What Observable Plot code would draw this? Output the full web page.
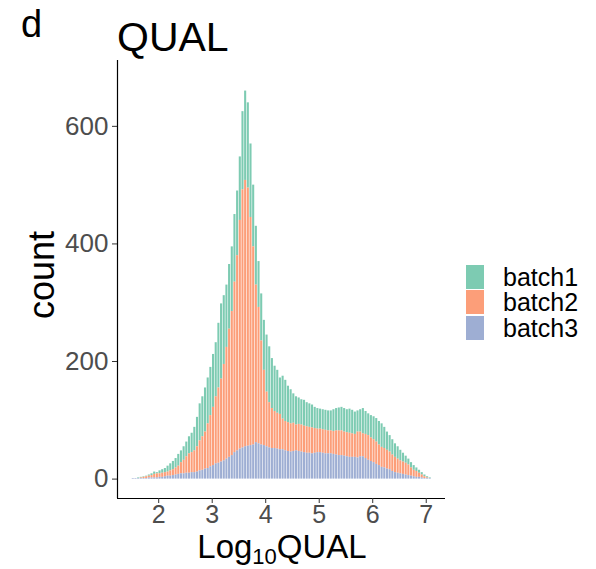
<!DOCTYPE html>
<html>
<head>
<meta charset="utf-8">
<script src="https://cdn.jsdelivr.net/npm/d3@7"></script>
<script src="https://cdn.jsdelivr.net/npm/@observablehq/plot@0.6"></script>
<style>
  body { margin: 0; background: #fff; font-family: "Liberation Sans", Arial, sans-serif; }
  #wrap { position: relative; width: 596px; height: 569px; overflow: hidden; }
  #wrap svg { position: absolute; left: 0; top: 0; }
  .ov { position: absolute; white-space: nowrap; color: #000; line-height: 1; }
  .key { position: absolute; width: 18px; height: 24px; }
</style>
</head>
<body>
<div id="wrap"></div>
<script>
const panelLetter = "d";
const title = "QUAL";
const yLabel = "count";
const batches = ["batch1", "batch2", "batch3"];
const batchColors = ["#66C2A5", "#FC8D62", "#8DA0CB"];
const binStartFirst = 1.5;
const binWidth = 0.05;
const xTicks = [2, 3, 4, 5, 6, 7];
const yTicks = [0, 200, 400, 600];
const xDomain = [1.23, 7.36];
const yDomain = [-33, 712];

const batch1 = [
  0,0,1,1,1,1,2,3,4,2,
  5,6,7,10,12,14,16,20,20,23,
  25,29,33,40,50,63,68,75,78,82,
  90,92,110,128,117,106,110,110,115,110,
  108,133,152,145,125,105,100,78,80,85,
  97,95,85,77,73,62,73,70,62,58,
  50,48,45,43,44,41,40,39,36,35,
  34,34,34,34,34,37,38,39,40,40,
  39,41,40,38,36,38,43,39,37,38,
  39,40,40,40,36,31,28,26,23,21,
  18,15,12,10,9,8,6,5,4,3,
  2,1
];
const batch2 = [
  0,0,0,1,2,3,3,4,6,7,
  6,7,7,7,9,10,12,14,19,23,
  28,33,34,37,43,51,57,63,76,87,
  99,114,128,141,164,190,218,245,290,332,
  389,439,453,439,388,337,268,232,177,128,
  93,77,68,63,61,60,52,50,49,48,
  48,44,46,46,45,45,44,44,42,40,
  40,40,40,39,39,39,41,42,42,41,
  41,41,40,39,44,42,39,41,42,40,
  39,38,35,34,33,32,30,28,26,24,
  22,21,20,18,14,11,10,7,5,3,
  1,0
];
const batch3 = [
  1,1,1,1,1,1,2,2,2,2,
  3,3,4,5,5,6,7,8,9,9,
  10,10,11,11,12,14,15,17,18,21,
  23,26,27,29,31,34,37,40,45,48,
  51,53,55,56,57,58,62,60,58,57,
  55,53,52,52,51,50,50,48,47,46,
  47,48,47,46,45,44,44,43,44,45,
  45,44,43,43,43,42,41,40,40,39,
  38,37,37,37,36,38,38,35,32,30,
  28,25,23,20,19,17,16,13,11,10,
  9,8,7,6,5,4,3,3,2,1,
  1,1
];

const series = {batch1, batch2, batch3};
const rows = [];
batches.forEach(b => {
  series[b].forEach((c, i) => {
    const x1 = +(binStartFirst + i * binWidth).toFixed(3);
    rows.push({batch: b, x1, x2: +(x1 + binWidth).toFixed(3), count: c});
  });
});

const W = 596, H = 569;
const plot = Plot.plot({
  width: W,
  height: H,
  marginLeft: 117,
  marginRight: 151,
  marginTop: 60,
  marginBottom: 71,
  style: {fontFamily: "Liberation Sans, Arial, sans-serif", background: "transparent"},
  x: {domain: xDomain},
  y: {domain: yDomain},
  color: {domain: batches, range: batchColors},
  marks: [
    Plot.rectY(rows, Plot.stackY({
      x1: "x1", x2: "x2", y: "count", fill: "batch",
      order: ["batch3", "batch2", "batch1"],
      fillOpacity: 0.85, insetLeft: 0.3, insetRight: 0.3
    })),
    Plot.ruleX([xDomain[0]], {stroke: "#000", strokeWidth: 1.2}),
    Plot.ruleY([yDomain[0]], {stroke: "#000", strokeWidth: 1.2}),
    Plot.axisX({ticks: xTicks, tickSize: 5, tickPadding: 2, fontSize: 25, label: null, stroke: "#333", fill: "#4D4D4D", tickFormat: d => String(d)}),
    Plot.axisY({ticks: yTicks, tickSize: 5, tickPadding: 4, fontSize: 26, label: null, stroke: "#333", fill: "#4D4D4D", tickFormat: d => String(d)})
  ]
});

const wrap = document.getElementById("wrap");
wrap.appendChild(plot);

function ov(html, css) {
  const d = document.createElement("div");
  d.className = "ov";
  d.innerHTML = html;
  Object.assign(d.style, css);
  wrap.appendChild(d);
  return d;
}
ov(panelLetter, {left: "21px", top: "5px", fontSize: "38px"});
ov(title, {left: "117px", top: "17px", fontSize: "41px"});
ov(yLabel, {left: "42px", top: "275px", fontSize: "36px", transform: "translate(-50%,-50%) rotate(-90deg)"});
ov('Log<sub style="font-size:22px;vertical-align:-6px;line-height:0">10</sub>QUAL', {left: "282px", top: "532px", fontSize: "33px", lineHeight: "0.9", transform: "translateX(-50%)"});

batches.forEach((b, i) => {
  const k = document.createElement("div");
  k.className = "key";
  Object.assign(k.style, {left: "466px", top: (265 + i * 25.3) + "px", background: batchColors[i], opacity: 0.85});
  wrap.appendChild(k);
  ov(b, {left: "503px", top: (266 + i * 25.3) + "px", fontSize: "25px", lineHeight: "0.95"});
});
</script>
</body>
</html>
